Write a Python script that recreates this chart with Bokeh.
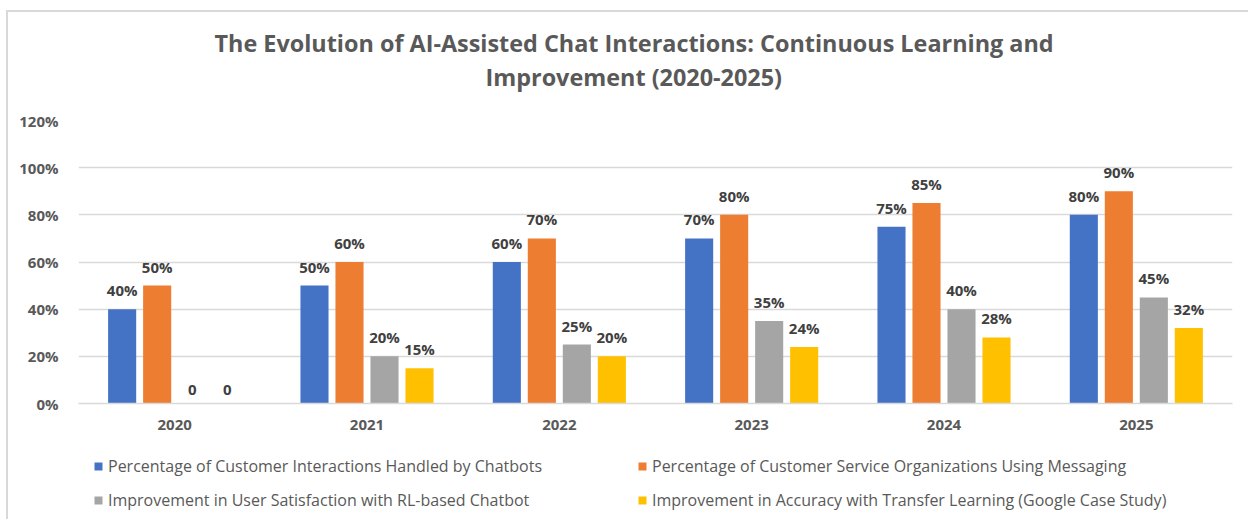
from bokeh.plotting import figure
from bokeh.layouts import column
from bokeh.models import (ColumnDataSource, FactorRange, Range1d, FixedTicker,
                          NumeralTickFormatter, Legend, LegendItem, Title)
from bokeh.transform import dodge
from bokeh.core.properties import value
from bokeh.embed import file_html
from bokeh.resources import INLINE

years = ["2020", "2021", "2022", "2023", "2024", "2025"]
chatbots = [0.40, 0.50, 0.60, 0.70, 0.75, 0.80]
messaging = [0.50, 0.60, 0.70, 0.80, 0.85, 0.90]
satisfaction = [0.00, 0.20, 0.25, 0.35, 0.40, 0.45]
accuracy = [0.00, 0.15, 0.20, 0.24, 0.28, 0.32]
series_names = [
    "Percentage of Customer Interactions Handled by Chatbots",
    "Percentage of Customer Service Organizations Using Messaging",
    "Improvement in User Satisfaction with RL-based Chatbot",
    "Improvement in Accuracy with Transfer Learning (Google Case Study)",
]
y_ticks = [0, 0.2, 0.4, 0.6, 0.8, 1.0, 1.2]
title_line1 = "The Evolution of AI-Assisted Chat Interactions: Continuous Learning and"
title_line2 = "Improvement (2020-2025)"

colors = ["#4472C4", "#ED7D31", "#A5A5A5", "#FFC000"]
series = [chatbots, messaging, satisfaction, accuracy]
offsets = [-0.273, -0.091, 0.091, 0.273]
bar_w = 0.146
BORDER = "2px solid #d9d9d9"


def fmt(v):
    return f"{round(v * 100)}%" if v else "0"


data = {"year": years}
for i, s in enumerate(series):
    data[f"s{i}"] = s
    data[f"l{i}"] = [fmt(v) for v in s]
src = ColumnDataSource(data)

# ---- main chart ----
p = figure(width=1242, height=433, x_range=FactorRange(*years), y_range=Range1d(0, 1.2),
           output_backend="svg", toolbar_location=None,
           min_border_left=70, min_border_right=18, min_border_top=108, min_border_bottom=42,
           styles={"border-top": BORDER, "border-left": BORDER})
p.outline_line_color = None
p.border_fill_color = "white"

title_style = dict(align="left", text_font="Open Sans", text_font_style="bold",
                   text_font_size="23.4px", text_color="#595959", standoff=0)
p.title.text = ""
p.title.standoff = 0
p.title.visible = False
# stacked outward from the frame: spacer, second line, first line
p.add_layout(Title(text=" ", text_font_size="16px", standoff=9), "above")
p.add_layout(Title(text=title_line2, offset=407, **title_style), "above")
p.add_layout(Title(text=title_line1, offset=136, **title_style), "above")

for i in range(4):
    p.vbar(x=dodge("year", offsets[i], range=p.x_range), top=f"s{i}", width=bar_w,
           source=src, fill_color=colors[i], line_color=None)
    p.text(x=dodge("year", offsets[i], range=p.x_range), y=f"s{i}", text=f"l{i}", source=src,
           text_align="center", text_baseline="bottom", y_offset=-9,
           text_font=value("Open Sans"), text_font_style="bold", text_font_size="15px",
           text_color="#404040")

p.yaxis.ticker = FixedTicker(ticks=y_ticks)
p.yaxis.formatter = NumeralTickFormatter(format="0%")
p.yaxis.axis_line_color = None
p.yaxis.major_tick_line_color = None
p.yaxis.minor_tick_line_color = None
p.yaxis.major_label_text_font = "Open Sans"
p.yaxis.major_label_text_font_style = "bold"
p.yaxis.major_label_text_font_size = "15px"
p.yaxis.major_label_text_color = "#595959"
p.yaxis.major_label_standoff = 14

p.xaxis.axis_line_color = "#d9d9d9"
p.xaxis.axis_line_width = 1.5
p.xaxis.major_tick_line_color = None
p.xaxis.minor_tick_line_color = None
p.xaxis.major_label_text_font = "Open Sans"
p.xaxis.major_label_text_font_style = "bold"
p.xaxis.major_label_text_font_size = "15px"
p.xaxis.major_label_text_color = "#595959"
p.xaxis.major_label_standoff = 10

p.xgrid.grid_line_color = None
p.ygrid.grid_line_color = "#d9d9d9"
p.ygrid.grid_line_width = 1.5
p.ygrid.ticker = FixedTicker(ticks=y_ticks)

# ---- legend strip (frame is aligned with the main chart's frame) ----
lg = figure(width=1242, height=76, x_range=Range1d(0, 1), y_range=Range1d(0, 1),
            output_backend="svg", toolbar_location=None,
            x_axis_location=None, y_axis_location=None,
            min_border_left=0, min_border_right=0, min_border_top=0, min_border_bottom=0,
            styles={"border-left": BORDER})
lg.outline_line_color = None
lg.grid.visible = False
items = []
proxy = ColumnDataSource(dict(x=[0], top=[0]))  # zero-height proxy bars for legend swatches
for i in range(4):
    r = lg.vbar(x="x", top="top", width=0, source=proxy, fill_color=colors[i], line_color=None)
    items.append(LegendItem(label=series_names[i], renderers=[r]))
legend = Legend(items=items, location=(15, 8), orientation="horizontal", ncols=2,
                glyph_width=10, glyph_height=10, label_standoff=5, label_width=517,
                label_height=20, spacing=12, padding=0, margin=0,
                border_line_color=None, background_fill_alpha=0,
                label_text_font="Open Sans", label_text_font_size="16px",
                label_text_color="#595959")
lg.add_layout(legend, "center")

layout = column(p, lg, spacing=0, margin=(10, 0, 0, 6))
open("out.html", "w").write(file_html(layout, INLINE))
